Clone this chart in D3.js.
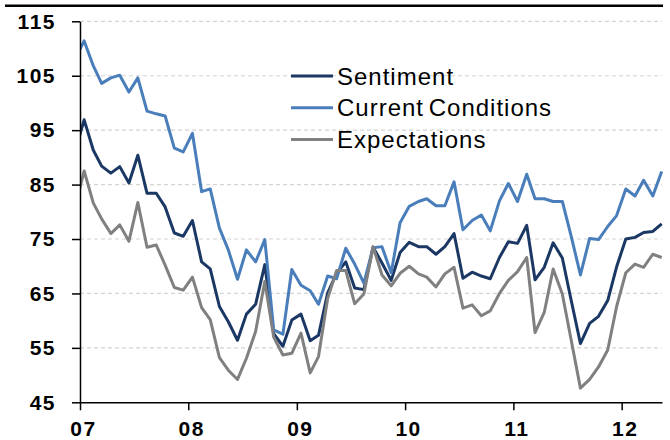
<!DOCTYPE html>
<html>
<head>
<meta charset="utf-8">
<script src="https://cdn.jsdelivr.net/npm/d3@7"></script>
<style>
  body { margin: 0; background: #fff; }
  svg { display: block; font-family: "Liberation Sans", Arial, sans-serif; }
</style>
</head>
<body>
<div id="chart"></div>
<script>
// monthly index values, Dec 2006 .. May 2012
const firstMonth = "2006-12-15";

const sentiment = [91.0,
  96.9, 91.3, 88.4, 87.1, 88.3, 85.3, 90.4, 83.4, 83.4, 80.9, 76.1, 75.5,
  78.4, 70.8, 69.5, 62.6, 59.8, 56.4, 61.2, 63.0, 70.3, 57.6, 55.3, 60.1,
  61.2, 56.3, 57.3, 65.1, 68.7, 70.8, 66.0, 65.7, 73.5, 70.6, 67.4, 72.5,
  74.4, 73.6, 73.6, 72.2, 73.6, 76.0, 67.8, 68.9, 68.2, 67.7, 71.6, 74.5,
  74.2, 77.5, 67.5, 69.8, 74.3, 71.5, 63.7, 55.8, 59.5, 60.8, 63.7, 69.9,
  75.0, 75.3, 76.2, 76.4, 77.8];

const currentConditions = [108.0,
  111.4, 106.8, 103.6, 104.6, 105.1, 102.0, 104.6, 98.5, 98.0, 97.6, 91.7, 91.0,
  94.4, 83.7, 84.2, 77.0, 73.0, 67.6, 73.0, 70.8, 74.9, 58.3, 57.5, 69.4,
  66.5, 65.5, 63.0, 68.2, 67.7, 73.3, 70.4, 66.9, 73.4, 73.6, 68.8, 78.0,
  81.0, 81.9, 82.4, 81.1, 81.1, 85.5, 76.7, 78.4, 79.4, 76.5, 82.0, 85.2,
  81.9, 86.9, 82.4, 82.4, 81.9, 81.9, 75.5, 68.4, 75.1, 74.9, 77.3, 79.3,
  84.2, 82.9, 85.8, 82.9, 87.4];

const expectations = [80.8,
  87.5, 81.6, 78.7, 76.0, 77.6, 74.6, 81.7, 73.5, 73.9, 70.2, 66.1, 65.6,
  68.0, 62.4, 60.2, 53.2, 50.9, 49.2, 53.1, 58.0, 67.2, 57.0, 53.7, 54.0,
  57.7, 50.4, 53.4, 64.1, 69.2, 69.2, 63.1, 64.9, 73.6, 68.4, 66.4, 68.7,
  70.0, 68.6, 68.0, 66.2, 68.6, 69.8, 62.3, 62.9, 60.9, 61.8, 65.0, 67.4,
  69.0, 71.6, 57.8, 61.5, 69.5, 64.9, 56.4, 47.6, 49.2, 51.5, 54.6, 62.6,
  68.8, 70.4, 69.8, 72.2, 71.6];

const seriesNames = ["Sentiment", "Current Conditions", "Expectations"];
const seriesColors = ["#1b3864", "#4a7ebb", "#808080"];
const yTicks = [45, 55, 65, 75, 85, 95, 105, 115];
const yearTicks = ["2007", "2008", "2009", "2010", "2011", "2012"];

const W = 670, H = 440;
const margin = {top: 21.3, left: 80, right: 8, bottom: 37.7};

const svg = d3.select("#chart")
  .append("svg")
  .attr("width", W)
  .attr("height", H);

const parse = d3.utcParse("%Y-%m-%d");
const start = parse(firstMonth);
const months = sentiment.map((d, i) => d3.utcMonth.offset(start, i));

const x = d3.scaleUtc()
  .domain([parse("2007-01-01"), parse("2012-05-16")])
  .range([margin.left, W - margin.right]);

const y = d3.scaleLinear()
  .domain([45, 115])
  .range([H - margin.bottom, margin.top]);

// top rule
svg.append("line")
  .attr("x1", 5).attr("x2", 663)
  .attr("y1", 5.7).attr("y2", 5.7)
  .attr("stroke", "#000")
  .attr("stroke-width", 2.5);

// dashed gridlines
svg.append("g")
  .selectAll("line")
  .data(yTicks.filter(d => d > 45))
  .join("line")
  .attr("x1", margin.left).attr("x2", W - margin.right)
  .attr("y1", d => y(d)).attr("y2", d => y(d))
  .attr("stroke", "#d4d4d4")
  .attr("stroke-width", 1.2)
  .attr("stroke-dasharray", "4,3");

svg.append("clipPath")
  .attr("id", "plot-clip")
  .append("rect")
  .attr("x", margin.left).attr("y", 0)
  .attr("width", W - margin.left).attr("height", H);

const line = d3.line()
  .x((d, i) => x(months[i]))
  .y(d => y(d));

const allSeries = [sentiment, currentConditions, expectations];

svg.append("g")
  .attr("clip-path", "url(#plot-clip)")
  .selectAll("path")
  .data(allSeries)
  .join("path")
  .attr("d", line)
  .attr("fill", "none")
  .attr("stroke", (d, i) => seriesColors[i])
  .attr("stroke-width", 3)
  .attr("stroke-linejoin", "round");

// axes
const yAxis = svg.append("g")
  .attr("transform", `translate(${margin.left},0)`)
  .call(d3.axisLeft(y).tickValues(yTicks).tickSize(8).tickSizeOuter(0).tickPadding(16));

const xAxis = svg.append("g")
  .attr("transform", `translate(0,${H - margin.bottom})`)
  .call(d3.axisBottom(x)
    .tickValues(yearTicks.map(d => parse(d + "-01-01")))
    .tickFormat(d3.utcFormat("%y"))
    .tickSize(8).tickSizeOuter(0).tickPadding(11));

[yAxis, xAxis].forEach(g => {
  g.selectAll(".domain").attr("stroke", "#000").attr("stroke-width", 1.5);
  g.selectAll(".tick line").attr("stroke", "#000").attr("stroke-width", 1.5);
  g.selectAll(".tick text")
    .attr("fill", "#000")
    .style("font-family", "'Liberation Sans', Arial, sans-serif")
    .style("font-size", "21px")
    .style("font-weight", "bold")
    .style("letter-spacing", "1.5px");
});
xAxis.selectAll(".tick text").attr("dx", 3);

// legend
const legend = svg.append("g");
seriesNames.forEach((name, i) => {
  const base = 84.5 + i * 31.8;
  legend.append("line")
    .attr("x1", 291).attr("x2", 333)
    .attr("y1", base - 8.5).attr("y2", base - 8.5)
    .attr("stroke", seriesColors[i])
    .attr("stroke-width", 3);
  legend.append("text")
    .attr("x", 337).attr("y", base)
    .attr("fill", "#000")
    .style("font-size", "24px")
    .style("letter-spacing", "1px")
    .style("word-spacing", "-3px")
    .text(name);
});
</script>
</body>
</html>
